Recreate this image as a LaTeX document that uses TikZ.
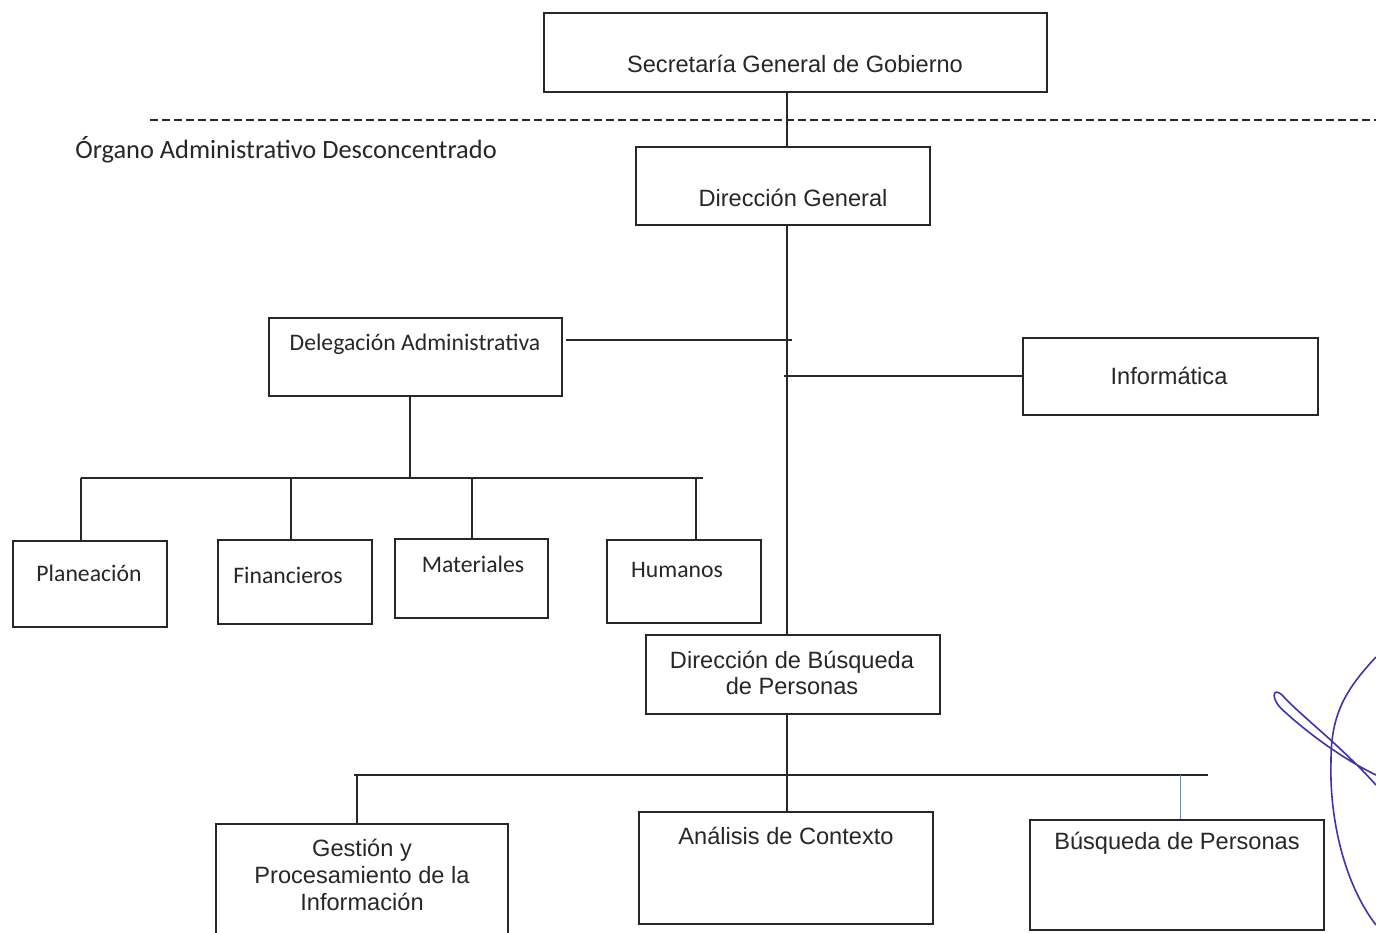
\documentclass[tikz,border=0pt]{standalone}
\usepackage{fontspec}
\setmainfont{Liberation Sans}
\newfontfamily\calibri{Carlito}
\usetikzlibrary{fit,positioning}

\definecolor{ink}{RGB}{40,38,40}
\definecolor{pen}{RGB}{62,52,170}
\definecolor{thinblue}{RGB}{110,140,180}

\tikzset{
  box/.style={draw=ink, line width=.75pt, inner sep=0pt},
  txt/.style={inner sep=0pt, text=ink, font=\fontsize{11.8}{13}\selectfont, align=center},
  ctxt/.style={inner sep=0pt, text=ink, font=\calibri\fontsize{11.85}{13}\selectfont},
  link/.style={draw=ink, line width=.55pt},
}

\begin{document}
\begin{tikzpicture}[x=.5pt, y=-.5pt]
    \useasboundingbox (0,0) rectangle (1376,932);
    % boxes
    \node[box, fit={(544,13) (1047,92)}] (sgg) {};
    \node[box, fit={(636,147) (930,225)}] (dg) {};
    \node[box, fit={(269,318) (562,396)}] (dela) {};
    \node[box, fit={(1023,338) (1318,415)}] (inf) {};
    \node[box, fit={(13,541) (167,627)}] (plan) {};
    \node[box, fit={(218,540) (372,624)}] (fin) {};
    \node[box, fit={(395,539) (548,618)}] (mat) {};
    \node[box, fit={(607,540) (761,623)}] (hum) {};
    \node[box, fit={(646,635) (940,714)}] (dbp) {};
    \node[box, fit={(216,824) (508,945)}] (gpi) {};
    \node[box, fit={(639,812) (933,924)}] (ac) {};
    \node[box, fit={(1030,820) (1324,930)}] (bp) {};
    % texts
    \node[txt] (tsgg) at (795,64) {Secretaría General de Gobierno};
    \node[txt] (tdg) at (793,198) {Dirección General};
    \node[txt] (tinf) at (1169,376) {Informática};
    \node[txt] (tdbp) at (792,673) {Dirección de Búsqueda\\de Personas};
    \node[txt, font=\fontsize{11.8}{13.5}\selectfont] (tgpi) at (362,875)
        {Gestión y\\Procesamiento de la\\Información};
    \node[txt] (tac) at (786,836) {Análisis de Contexto};
    \node[txt] (tbp) at (1177,843) {Búsqueda de Personas};
    \node[ctxt, font=\calibri\fontsize{13.2}{15}\selectfont] (torg) at (286,150) {Órgano Administrativo Desconcentrado};
    \node[ctxt] (tdela) at (415,344) {Delegación Administrativa};
    \node[ctxt] (tplan) at (89,573) {Planeación};
    \node[ctxt] (tfin) at (288,575) {Financieros};
    \node[ctxt] (tmat) at (473,564) {Materiales};
    \node[ctxt] (thum) at (677,570) {Humanos};
    % dashed boundary
    \draw[draw=ink, line width=1pt, dash pattern=on 4pt off 2pt] (150,120) -- (1376,120);
    % main spine
    \coordinate (spine) at (787,0);
    \draw[link] (sgg.south -| spine) -- (dg.north -| spine);
    \draw[link] (dg.south -| spine) -- (dbp.north -| spine);
    \draw[link] (dbp.south -| spine) -- (ac.north -| spine);
    % side units
    \coordinate (dl) at (792,340);
    \coordinate (il) at (784,376);
    \draw[link] ([xshift=1.5pt]dela.east |- dl) -- (dl);
    \draw[link] (il) -- (inf.west |- il);
    % administrative branch
    \coordinate (adm) at (410,478);
    \draw[link] (dela.south -| adm) -- (adm);
    \draw[link] (81,478) -- (703,478);
    \foreach \n/\x in {plan/81, fin/291, mat/472, hum/696}
        \draw[link] (\x,478) -- (\x,478 |- \n.north);
    % search branch
    \draw[link] (354,775) -- (1208,775);
    \draw[link] (357,775) -- (357,775 |- gpi.north);
    \draw[draw=thinblue, line width=.4pt] (1180,775) -- (1180,775 |- bp.north);
    % signature
    \draw[pen, line width=.8pt] (1376,657) .. controls (1345,690) and (1331,715) .. (1331,760)
        .. controls (1329,820) and (1345,885) .. (1376,925);
    \draw[pen, line width=.8pt] (1376,785) .. controls (1340,745) and (1300,715) .. (1282,695)
        .. controls (1272,686) and (1270,700) .. (1285,712)
        .. controls (1310,735) and (1345,760) .. (1376,775);
\end{tikzpicture}
\end{document}
